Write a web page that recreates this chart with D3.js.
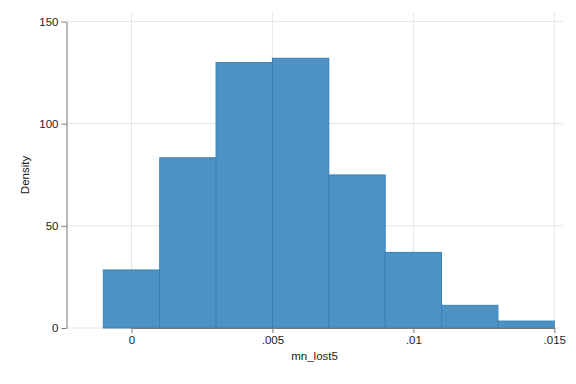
<!DOCTYPE html>
<html><head><meta charset="utf-8">
<script src="https://cdn.jsdelivr.net/npm/d3@7"></script>
<style>body{margin:0;background:#fff}svg{display:block}text{font-family:Arial,"Liberation Sans",sans-serif;fill:#222}</style>
</head><body><svg id="c" width="576" height="384"></svg>
<script>
const binStarts = [-0.001, 0.001, 0.003, 0.005, 0.007, 0.009, 0.011, 0.013];
const binWidth = 0.002;
const densities = [28.4, 83.3, 129.9, 132.0, 74.9, 37.0, 11.1, 3.4];
const xTicks = [0, 0.005, 0.01, 0.015];
const xTickLabels = ["0", ".005", ".01", ".015"];
const yTicks = [0, 50, 100, 150];
const xTitle = "mn_lost5", yTitle = "Density";

const svg = d3.select("#c");
const x = d3.scaleLinear().domain([0, 0.015]).range([131.5, 554.3]);
const y = d3.scaleLinear().domain([0, 150]).range([328, 21.5]);
const plotL = 66.5, plotR = 562.7, plotT = 13;

// gridlines
svg.append("g").selectAll("line").data(yTicks).join("line")
  .attr("x1", plotL).attr("x2", plotR).attr("y1", d => y(d)).attr("y2", d => y(d))
  .attr("stroke", "#e6e6e6").attr("stroke-width", 1);
svg.append("g").selectAll("line").data(xTicks).join("line")
  .attr("x1", d => x(d)).attr("x2", d => x(d)).attr("y1", plotT).attr("y2", y(0))
  .attr("stroke", "#e6e6e6").attr("stroke-width", 1);

// bars
svg.append("g").selectAll("rect").data(binStarts).join("rect")
  .attr("x", d => x(d)).attr("width", d => x(d + binWidth) - x(d))
  .attr("y", (d, i) => y(densities[i])).attr("height", (d, i) => y(0) - y(densities[i]))
  .attr("fill", "#4c93c3").attr("stroke", "#3a80b6").attr("stroke-width", 1);

// axes
const xAxis = d3.axisBottom(x).tickValues(xTicks).tickFormat((d, i) => xTickLabels[i]).tickSize(5).tickPadding(3).tickSizeOuter(0);
const gx = svg.append("g").attr("transform", `translate(0,${y(0)})`).call(xAxis);
const yAxis = d3.axisLeft(y).tickValues(yTicks).tickSize(5).tickPadding(3).tickSizeOuter(0);
const gy = svg.append("g").attr("transform", `translate(${plotL},0)`).call(yAxis);
[gx, gy].forEach(g => {
  g.select(".domain").attr("stroke", "#777").attr("stroke-width", 1);
  g.selectAll(".tick line").attr("stroke", "#777");
  g.selectAll(".tick text").attr("font-size", 11.5).attr("fill", "#222").style("font-family", "Arial, 'Liberation Sans', sans-serif");
});

svg.append("text").attr("x", (plotL + plotR) / 2).attr("y", 360).attr("text-anchor", "middle")
  .attr("font-size", 11.5).text(xTitle);
svg.append("text").attr("transform", "translate(29,175) rotate(-90)").attr("text-anchor", "middle")
  .attr("font-size", 11.5).text(yTitle);
</script></body></html>
